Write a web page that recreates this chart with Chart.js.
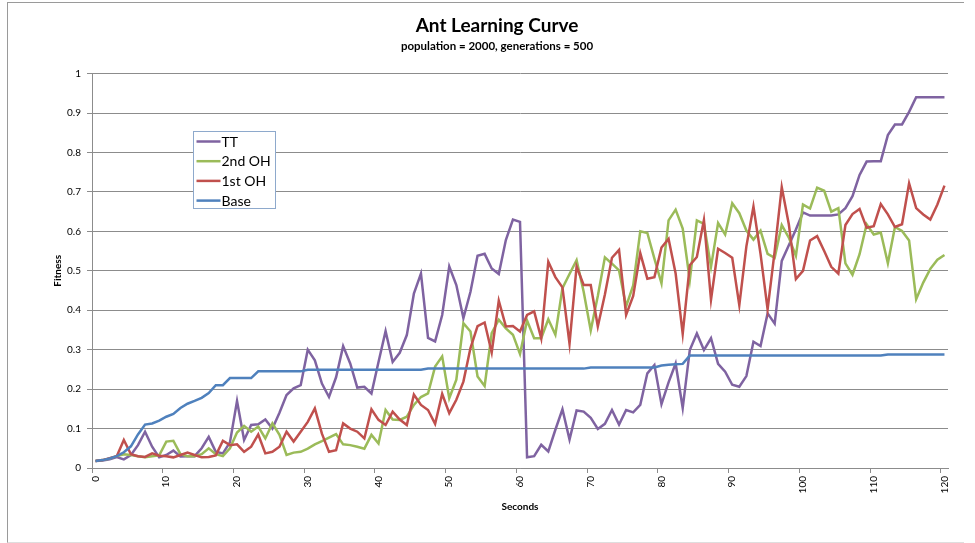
<!DOCTYPE html>
<html>
<head>
<meta charset="utf-8">
<script src="https://cdn.jsdelivr.net/npm/chart.js@4.4.1/dist/chart.umd.min.js"></script>
<style>
  body { margin: 0; background: #fff; }
  #wrap { position: relative; width: 975px; height: 543px; }
  #frame {
    position: absolute; left: 7px; top: 2px; width: 956px; height: 539px;
    border-left: 1px solid #9a9a9a; border-top: 1px solid #9a9a9a;
    border-bottom: 1px solid #dedede; pointer-events: none;
  }
</style>
</head>
<body>
<div id="wrap">
  <canvas id="curve" width="975" height="543"></canvas>
  <div id="frame"></div>
</div>
<script>
// seconds 0..120 (category axis)
const seconds = [];
for (let s = 0; s <= 120; s++) seconds.push(String(s));

const tt = [
  0.018, 0.019, 0.022, 0.028, 0.022, 0.033, 0.058, 0.092, 0.054, 0.027,
  0.033, 0.044, 0.029, 0.03, 0.03, 0.05, 0.079, 0.041, 0.037, 0.065,
  0.17, 0.071, 0.109, 0.111, 0.123, 0.1, 0.14, 0.185, 0.202, 0.21,
  0.3, 0.273, 0.214, 0.18, 0.23, 0.309, 0.265, 0.204, 0.206, 0.189,
  0.269, 0.347, 0.269, 0.292, 0.337, 0.442, 0.493, 0.33, 0.321, 0.388,
  0.511, 0.464, 0.38, 0.447, 0.538, 0.543, 0.506, 0.492, 0.578, 0.63,
  0.624, 0.027, 0.03, 0.059, 0.042, 0.097, 0.149, 0.072, 0.146, 0.143,
  0.127, 0.099, 0.112, 0.147, 0.11, 0.147, 0.141, 0.16, 0.24, 0.261,
  0.162, 0.217, 0.265, 0.152, 0.299, 0.341, 0.299, 0.329, 0.264, 0.244,
  0.211, 0.206, 0.233, 0.32, 0.309, 0.392, 0.366, 0.525, 0.565, 0.605,
  0.648, 0.64, 0.64, 0.64, 0.64, 0.643, 0.659, 0.689, 0.743, 0.777,
  0.778, 0.778, 0.844, 0.871, 0.871, 0.903, 0.94, 0.94, 0.94, 0.94,
  0.94
];

const oh2 = [
  0.018, 0.02, 0.024, 0.03, 0.035, 0.033, 0.03, 0.027, 0.03, 0.032,
  0.067, 0.069, 0.035, 0.03, 0.03, 0.035, 0.05, 0.035, 0.03, 0.05,
  0.09, 0.107, 0.092, 0.105, 0.075, 0.113, 0.084, 0.033, 0.039, 0.041,
  0.049, 0.06, 0.068, 0.077, 0.086, 0.06, 0.058, 0.054, 0.049, 0.084,
  0.062, 0.147, 0.123, 0.122, 0.13, 0.16, 0.18, 0.189, 0.257, 0.283,
  0.177, 0.224, 0.367, 0.346, 0.232, 0.208, 0.342, 0.376, 0.354, 0.338,
  0.289, 0.374, 0.329, 0.329, 0.377, 0.338, 0.456, 0.492, 0.527, 0.447,
  0.349, 0.436, 0.534, 0.518, 0.501, 0.41, 0.463, 0.6, 0.596, 0.531,
  0.468, 0.628, 0.655, 0.607, 0.476, 0.628, 0.619, 0.51, 0.621, 0.592,
  0.671, 0.646, 0.602, 0.579, 0.602, 0.543, 0.533, 0.616, 0.584, 0.538,
  0.668, 0.658, 0.711, 0.703, 0.65, 0.659, 0.519, 0.49, 0.542, 0.618,
  0.592, 0.597, 0.519, 0.611, 0.601, 0.577, 0.428, 0.47, 0.505, 0.528,
  0.54
];

const oh1 = [
  0.018, 0.02, 0.025, 0.03, 0.071, 0.035, 0.03, 0.028, 0.037, 0.031,
  0.03, 0.027, 0.033, 0.039, 0.033, 0.027, 0.028, 0.032, 0.069, 0.058,
  0.06, 0.041, 0.054, 0.085, 0.037, 0.041, 0.054, 0.092, 0.067, 0.092,
  0.117, 0.151, 0.087, 0.041, 0.045, 0.113, 0.1, 0.092, 0.075, 0.149,
  0.122, 0.109, 0.143, 0.123, 0.109, 0.186, 0.16, 0.147, 0.112, 0.188,
  0.139, 0.173, 0.219, 0.304, 0.36, 0.369, 0.293, 0.424, 0.359, 0.36,
  0.346, 0.388, 0.397, 0.329, 0.523, 0.484, 0.458, 0.315, 0.511, 0.464,
  0.464, 0.359, 0.44, 0.533, 0.553, 0.388, 0.436, 0.545, 0.48, 0.484,
  0.559, 0.581, 0.493, 0.34, 0.514, 0.535, 0.629, 0.427, 0.556, 0.545,
  0.533, 0.413, 0.562, 0.663, 0.543, 0.402, 0.55, 0.712, 0.618, 0.479,
  0.5, 0.577, 0.588, 0.55, 0.51, 0.493, 0.616, 0.644, 0.657, 0.609,
  0.613, 0.669, 0.643, 0.611, 0.618, 0.722, 0.659, 0.643, 0.63, 0.668,
  0.716
];

const base = [
  0.018, 0.02, 0.024, 0.03, 0.04, 0.055, 0.085, 0.11, 0.113, 0.12,
  0.13, 0.137, 0.152, 0.163, 0.17, 0.178, 0.19, 0.21, 0.21, 0.228,
  0.228, 0.228, 0.228, 0.245, 0.245, 0.245, 0.245, 0.245, 0.245, 0.245,
  0.249, 0.249, 0.249, 0.249, 0.249, 0.249, 0.249, 0.249, 0.249, 0.249,
  0.249, 0.249, 0.249, 0.249, 0.249, 0.249, 0.249, 0.252, 0.252, 0.252,
  0.252, 0.252, 0.252, 0.252, 0.252, 0.252, 0.252, 0.252, 0.252, 0.252,
  0.252, 0.252, 0.252, 0.252, 0.252, 0.252, 0.252, 0.252, 0.252, 0.252,
  0.255, 0.255, 0.255, 0.255, 0.255, 0.255, 0.255, 0.255, 0.255, 0.255,
  0.26, 0.262, 0.263, 0.264, 0.285, 0.285, 0.285, 0.285, 0.285, 0.285,
  0.285, 0.285, 0.285, 0.285, 0.285, 0.285, 0.285, 0.285, 0.285, 0.285,
  0.285, 0.285, 0.285, 0.285, 0.285, 0.285, 0.285, 0.285, 0.285, 0.285,
  0.285, 0.285, 0.288, 0.288, 0.288, 0.288, 0.288, 0.288, 0.288, 0.288,
  0.288
];

const gridGrey = "#8c8c8c";

// legend box drawn inside the plot, Excel style
const boxLegend = {
  id: "boxLegend",
  afterDraw(chart) {
    const ctx = chart.ctx;
    const x = 193.5, y = 131.5, w = 82, h = 77;
    ctx.save();
    ctx.fillStyle = "#fff";
    ctx.fillRect(x, y, w, h);
    ctx.strokeStyle = "#8ea9cc";
    ctx.lineWidth = 1;
    ctx.strokeRect(x, y, w, h);
    const items = chart.data.datasets.slice().reverse();
    ctx.font = "14px Lato";
    ctx.textBaseline = "middle";
    items.forEach(function (ds, i) {
      const rowY = y + 10 + i * 19.7;
      ctx.strokeStyle = ds.borderColor;
      ctx.lineWidth = 2.5;
      ctx.beginPath();
      ctx.moveTo(x + 3, rowY);
      ctx.lineTo(x + 27, rowY);
      ctx.stroke();
      ctx.fillStyle = "#000";
      ctx.fillText(ds.label, x + 28, rowY + 0.5);
    });
    ctx.restore();
  },
};

function line(label, data, color) {
  return {
    label: label,
    data: data,
    borderColor: color,
    backgroundColor: color,
    borderWidth: 2.5,
    pointRadius: 0,
    tension: 0,
    fill: false,
  };
}

Chart.defaults.font.family = "Lato";
Chart.defaults.color = "#000";

new Chart(document.getElementById("curve").getContext("2d"), {
  type: "line",
  data: {
    labels: seconds,
    datasets: [
      line("Base", base, "#4f81bd"),
      line("1st OH", oh1, "#c0504d"),
      line("2nd OH", oh2, "#9bbb59"),
      line("TT", tt, "#7f63a1"),
    ],
  },
  options: {
    responsive: false,
    animation: false,
    devicePixelRatio: 1,
    layout: { padding: { left: 46, right: 27, top: 0, bottom: 20 } },
    plugins: {
      legend: { display: false },
      tooltip: { enabled: false },
      title: {
        display: true,
        text: "Ant Learning Curve",
        font: { size: 19, weight: "bold" },
        padding: { top: 14, bottom: 3 },
      },
      subtitle: {
        display: true,
        text: "population = 2000, generations = 500",
        font: { size: 11.5, weight: "bold" },
        padding: { top: 0, bottom: 20 },
      },
    },
    scales: {
      x: {
        type: "category",
        offset: true,
        afterFit: function (scale) { scale.height = 55; },
        grid: {
          offset: true,
          drawOnChartArea: false,
          tickLength: 5,
          color: function (c) { return c.index % 10 === 0 ? gridGrey : "rgba(0,0,0,0)"; },
        },
        border: { color: gridGrey },
        ticks: {
          autoSkip: false,
          minRotation: 90,
          maxRotation: 90,
          padding: 3,
          font: { size: 10 },
          callback: function (v, i) { return i % 10 === 0 ? seconds[i] : ""; },
        },
        title: {
          display: true,
          text: "Seconds",
          font: { size: 10, weight: "bold" },
          padding: { top: 4, bottom: 10 },
        },
      },
      y: {
        min: 0,
        max: 1,
        afterFit: function (scale) { scale.width = 46; },
        grid: { color: gridGrey, tickLength: 5 },
        border: { color: gridGrey },
        ticks: {
          stepSize: 0.1,
          padding: 6,
          font: { size: 10 },
          callback: function (v) { return String(Math.round(v * 10) / 10); },
        },
        title: {
          display: true,
          text: "Fitness",
          font: { size: 10, weight: "bold" },
          padding: { top: 6, bottom: 0 },
        },
      },
    },
  },
  plugins: [boxLegend],
});
</script>
</body>
</html>
